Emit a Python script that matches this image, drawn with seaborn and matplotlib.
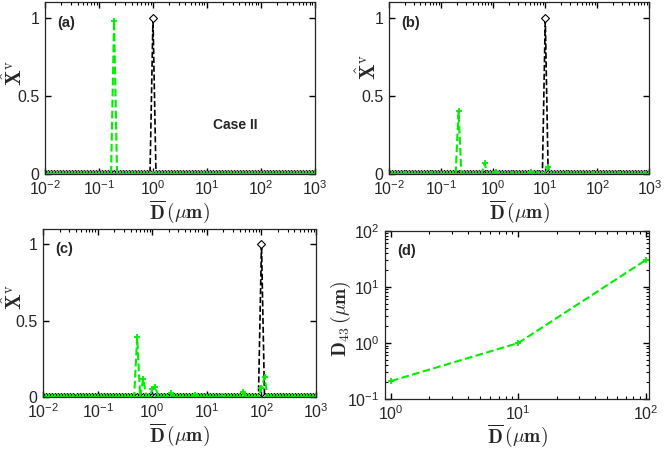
import numpy as np
import matplotlib
matplotlib.use("Agg")
import matplotlib.pyplot as plt
import seaborn as sns
from matplotlib.ticker import FixedLocator, LogLocator, NullFormatter, FuncFormatter

sns.set_style("ticks")
plt.rcParams['font.family'] = ['Liberation Sans', 'DejaVu Sans']
plt.rcParams['mathtext.fontset'] = 'cm'
plt.rcParams['xtick.direction'] = 'in'
plt.rcParams['ytick.direction'] = 'in'

# size grid (bins) shared by panels a-c
D_bins = np.logspace(-2, 3, 91)

# initial (black) peaks: mean size of each case
black_D = {'a': 1.0, 'b': 10.0, 'c': 100.0}

# predicted (green) distributions, non-zero bins only
green_D = {
    'a': [0.19],
    'b': [0.215, 0.68, 1.2, 5.6, 11.4],
    'c': [0.53, 0.68, 1.0, 1.13, 2.15, 6.0, 19.5, 46.0, 100.0, 117.0],
}
green_X = {
    'a': [0.98],
    'b': [0.40, 0.07, 0.01, 0.015, 0.045],
    'c': [0.39, 0.12, 0.05, 0.065, 0.025, 0.01, 0.005, 0.03, 0.06, 0.13],
}

# panel d: D43 vs mean size
d_mean = [1, 10, 100]
d43 = [0.21, 1.0, 30.0]

GREEN = '#00ee00'


def on_grid(ds, xs):
    y = np.zeros_like(D_bins)
    for d, x in zip(ds, xs):
        i = np.argmin(np.abs(np.log10(D_bins) - np.log10(d)))
        y[i] = x
    return y


def sup10(v, pos):
    return r'$\mathregular{10^{%d}}$' % round(np.log10(v))


def style_axes(ax):
    ax.tick_params(which='major', direction='in', top=True, right=True,
                   labelsize=11.5, color='black', length=4, width=1.0,
                   pad=4)
    ax.tick_params(which='minor', direction='in', top=True, right=True,
                   color='black', length=2.4, width=0.8)
    for s in ax.spines.values():
        s.set_linewidth(0.9)
        s.set_color('#262626')


fig = plt.figure(figsize=(6.64, 4.49), dpi=100)
pos = {
    'a': [0.068, 0.6125, 0.406, 0.383],
    'b': [0.586, 0.6125, 0.392, 0.383],
    'c': [0.065, 0.116, 0.411, 0.374],
}
ylab_xy = {'a': (-0.07, 0.59), 'b': (-0.035, 0.62), 'c': (-0.063, 0.595)}
xlab = r'$\overline{\mathbf{D}}\,(\mu\mathbf{m})$'
ylab = r'$\hat{\mathbf{X}}^{\rm v}$'

for key in ['a', 'b', 'c']:
    ax = fig.add_axes(pos[key])
    yb = on_grid([black_D[key]], [1.0])
    yg = on_grid(green_D[key], green_X[key])
    sns.lineplot(x=D_bins, y=yb, ax=ax, color='black', linestyle='--',
                 marker='D', markersize=3.6, markeredgewidth=0.8,
                 markeredgecolor='black', markerfacecolor='white',
                 linewidth=1.2, estimator=None)
    sns.lineplot(x=D_bins, y=yg, ax=ax, color=GREEN, linestyle='--',
                 marker='+', markersize=4, markeredgewidth=1.3,
                 markeredgecolor=GREEN, linewidth=1.5, estimator=None)
    ax.set_xscale('log')
    ax.set_xlim(1e-2, 1e3)
    ax.set_ylim(0, 1.1)
    ax.xaxis.set_major_locator(FixedLocator([1e-2, 1e-1, 1e0, 1e1, 1e2, 1e3]))
    ax.xaxis.set_major_formatter(FuncFormatter(sup10))
    ax.xaxis.set_minor_locator(LogLocator(base=10, subs=np.arange(2, 10)))
    ax.xaxis.set_minor_formatter(NullFormatter())
    ax.set_yticks([0, 0.5, 1])
    ax.set_yticklabels(['0', '0.5', '1'])
    style_axes(ax)
    ax.set_xlabel(xlab, fontsize=14, labelpad=0)
    ax.set_ylabel(ylab, fontsize=15)
    ax.yaxis.set_label_coords(*ylab_xy[key])
    ax.text(0.045, 0.88, '(%s)' % key, transform=ax.transAxes,
            fontsize=10.5, fontweight='bold', va='center')
    if key == 'a':
        ax.text(0.707, 0.285, 'Case II', transform=ax.transAxes,
                fontsize=10, fontweight='bold', ha='center', va='center')

ax = fig.add_axes([0.58, 0.111, 0.398, 0.375])
sns.lineplot(x=d_mean, y=d43, ax=ax, color=GREEN, linestyle='--',
             marker='+', markersize=5, markeredgewidth=1.3,
             markeredgecolor=GREEN, linewidth=1.5, estimator=None)
ax.set_xscale('log')
ax.set_yscale('log')
ax.set_xlim(0.9, 107)
ax.set_ylim(0.1, 100)
ax.xaxis.set_major_locator(FixedLocator([1, 10, 100]))
ax.yaxis.set_major_locator(FixedLocator([0.1, 1, 10, 100]))
ax.xaxis.set_major_formatter(FuncFormatter(sup10))
ax.yaxis.set_major_formatter(FuncFormatter(sup10))
for a in (ax.xaxis, ax.yaxis):
    a.set_minor_locator(LogLocator(base=10, subs=np.arange(2, 10)))
    a.set_minor_formatter(NullFormatter())
style_axes(ax)
ax.set_xlabel(xlab, fontsize=14, labelpad=-1)
ax.set_ylabel(r'$\mathbf{D}_{43}\,(\mu\mathbf{m})$', fontsize=14)
ax.yaxis.set_label_coords(-0.12, 0.476)
ax.text(0.045, 0.88, '(d)', transform=ax.transAxes,
        fontsize=10.5, fontweight='bold', va='center')

fig.savefig('out.png', dpi=100)
